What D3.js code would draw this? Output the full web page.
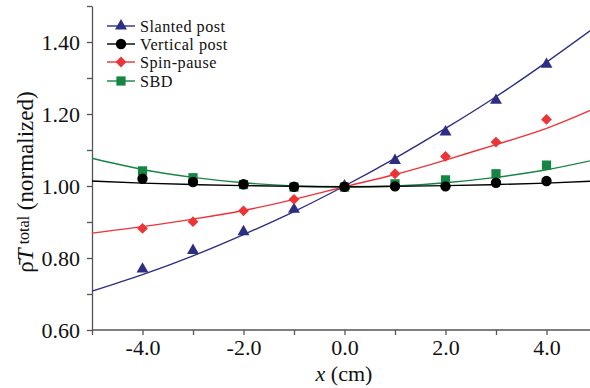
<!DOCTYPE html>
<html><head><meta charset="utf-8">
<script src="https://cdn.jsdelivr.net/npm/d3@7"></script>
<style>body{margin:0;background:#fff}svg{display:block}</style>
</head><body>
<svg id="c" width="590" height="388"></svg>
<script>
const pointX = [-4,-3,-2,-1,0,1,2,3,4];
const slanted = [0.769,0.821,0.873,0.935,1.0,1.071,1.15,1.238,1.338];
const vertical = [1.020,1.011,1.005,0.998,0.998,0.999,0.999,1.009,1.014];
const spin = [0.882,0.901,0.931,0.963,1.0,1.034,1.082,1.122,1.185];
const sbd = [1.042,1.023,1.004,0.997,0.997,1.006,1.017,1.034,1.058];

const fitX = [-5,-4,-3,-2,-1,0,1,2,3,4,5];
const slantedFit = [0.708,0.754,0.806,0.865,0.929,1.0,1.077,1.160,1.248,1.344,1.445];
const verticalFit = [1.014,1.008,1.004,1.001,0.999,0.998,0.999,1.001,1.004,1.008,1.014];
const spinFit = [0.869,0.887,0.908,0.932,0.963,0.998,1.032,1.072,1.115,1.160,1.218];
const sbdFit = [1.077,1.046,1.024,1.009,1.000,0.997,1.000,1.009,1.024,1.045,1.074];

const seriesNames = ["Slanted post","Vertical post","Spin-pause","SBD"];
const xMajor = [-4,-2,0,2,4];
const xMinor = [-5,-3,-1,1,3,5];
const yMajor = [0.6,0.8,1.0,1.2,1.4];
const yMinor = [0.7,0.9,1.1,1.3,1.5];

const svg = d3.select("#c");
const x = d3.scaleLinear().domain([-5,5]).range([92,597]);
const y = d3.scaleLinear().domain([0.6,1.5]).range([330,6]);
const FONT = "Liberation Serif";
const axisColor = "#555";

const series = [
  {name:seriesNames[0], pts:slanted, fit:slantedFit, color:"#2d2e83", sym:d3.symbolTriangle, size:62, rot:0},
  {name:seriesNames[2], pts:spin, fit:spinFit, color:"#ee3336", sym:d3.symbolSquare, size:58, rot:45},
  {name:seriesNames[3], pts:sbd, fit:sbdFit, color:"#168442", sym:d3.symbolSquare, size:85, rot:0},
  {name:seriesNames[1], pts:vertical, fit:verticalFit, color:"#000000", sym:d3.symbolCircle, size:85, rot:0},
];

function styleAxis(g){
  g.attr("font-family",null).attr("font-size",null);
  g.selectAll("path,line").attr("stroke",axisColor).attr("stroke-width",1.3);
  g.selectAll("text").style("font-family",FONT).style("font-size","22px").attr("fill","#111");
}
const gx = svg.append("g").attr("transform","translate(0,330)")
  .call(d3.axisBottom(x).tickValues(xMajor).tickSize(5).tickSizeOuter(0).tickPadding(4).tickFormat(d=>d3.format(".1f")(d).replace("\u2212","-")));
svg.append("g").attr("transform","translate(0,330)")
  .call(d3.axisBottom(x).tickValues(xMinor).tickSize(5).tickSizeOuter(0).tickFormat(""))
  .call(g=>g.select(".domain").remove()).call(styleAxis);
styleAxis(gx);
gx.select(".domain").attr("d","M92,0H590");

const gy = svg.append("g").attr("transform","translate(92,0)")
  .call(d3.axisLeft(y).tickValues(yMajor).tickSize(5).tickSizeOuter(0).tickPadding(7).tickFormat(d3.format(".2f")));
svg.append("g").attr("transform","translate(92,0)")
  .call(d3.axisLeft(y).tickValues(yMinor).tickSize(5).tickSizeOuter(0).tickFormat(""))
  .call(g=>g.select(".domain").remove()).call(styleAxis);
styleAxis(gy);

const xt = svg.append("text").attr("x",344).attr("y",381).attr("text-anchor","middle")
  .style("font-family",FONT).style("font-size","22px").attr("fill","#111");
xt.append("tspan").style("font-style","italic").text("x");
xt.append("tspan").text(" (cm)");

const yt = svg.append("text").attr("transform","translate(33,182) rotate(-90)").attr("text-anchor","middle")
  .style("font-family",FONT).style("font-size","23px").attr("fill","#111");
yt.append("tspan").text("\u03C1\u0304");
yt.append("tspan").style("font-style","italic").text("T");
yt.append("tspan").style("font-size","16px").attr("dy",-4).text(" total");
yt.append("tspan").attr("dy",4).text(" (normalized)");

const line = d3.line().x(d=>x(d[0])).y(d=>y(d[1])).curve(d3.curveNatural);
const plot = svg.append("g");
series.forEach(s=>{
  plot.append("path").datum(fitX.map((v,i)=>[v,s.fit[i]]))
    .attr("d",line).attr("fill","none").attr("stroke",s.color).attr("stroke-width",1.4);
});
series.forEach(s=>{
  plot.append("g").selectAll("path").data(pointX.map((v,i)=>[v,s.pts[i]])).join("path")
    .attr("d",d3.symbol().type(s.sym).size(s.size))
    .attr("transform",d=>`translate(${x(d[0])},${y(d[1])}) rotate(${s.rot})`)
    .attr("fill",s.color);
});

const legendOrder = [series[0],series[3],series[1],series[2]];
const rows = [26,44,62,81];
legendOrder.forEach((s,i)=>{
  const g = svg.append("g").attr("transform",`translate(0,${rows[i]})`);
  g.append("line").attr("x1",107).attr("x2",135).attr("stroke",s.color).attr("stroke-width",1.4);
  g.append("path").attr("d",d3.symbol().type(s.sym).size(s.size)).attr("transform",`translate(121,0) rotate(${s.rot})`).attr("fill",s.color);
  g.append("text").attr("x",140).attr("y",6).style("font-family",FONT).style("font-size","16.2px")
    .style("letter-spacing","0.5px").attr("fill","#111").text(s.name);
});
</script>
</body></html>
